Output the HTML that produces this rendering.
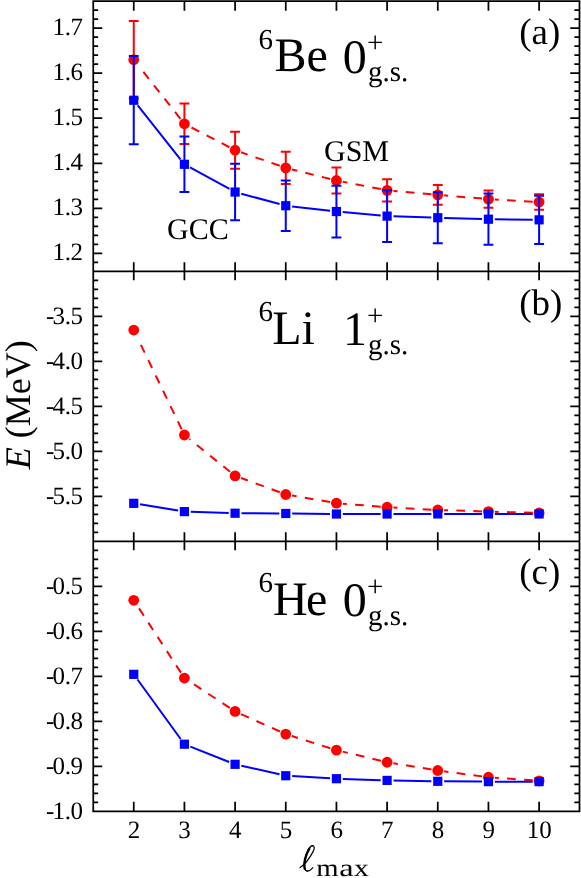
<!DOCTYPE html>
<html><head><meta charset="utf-8"><title>chart</title>
<style>html,body{margin:0;padding:0;background:#fff;width:581px;height:878px;overflow:hidden;font-family:"Liberation Serif",serif}</style>
</head><body>
<svg width="581" height="878" viewBox="0 0 581 878" style="display:block;position:absolute;left:0;top:0;will-change:transform">
<rect x="0" y="0" width="581" height="878" fill="#fff"/>
<g>
<path d="M180.45 118.76L175.05 111.94M169.9 105.43L164.51 98.6M159.36 92.09L153.96 85.27M148.81 78.76L143.41 71.94M229.42 147.25L221.7 143.22M214.34 139.38L206.63 135.36M199.27 131.52L191.55 127.5M279.72 165.79L271.5 162.92M263.67 160.18L255.45 157.32M247.62 154.58L241.13 152.31M330.22 178.96L321.78 176.86M313.72 174.85L305.28 172.75M297.22 170.75L291.97 169.44M380.82 189.1L372.28 187.44M364.13 185.87L355.59 184.21M347.44 182.63L342.71 181.72M431.4 194.25L422.73 193.48M414.46 192.75L405.8 191.98M397.53 191.24L393.47 190.88M482.06 198.59L473.39 197.86M465.12 197.15L456.46 196.41M448.19 195.71L444.15 195.36M532.72 201.66L524.03 201.16M515.75 200.69L507.06 200.2M498.78 199.73L494.83 199.5" stroke="#ff0000" stroke-width="2" fill="none"/>
<path d="M133.75 21.01V98.44M128.8 21.01H138.7M128.8 98.44H138.7" stroke="#ff0000" stroke-width="2" fill="none"/>
<path d="M184.42 103.52V144.04M179.47 103.52H189.37M179.47 144.04H189.37" stroke="#ff0000" stroke-width="2" fill="none"/>
<path d="M235.09 131.75V168.66M230.14 131.75H240.04M230.14 168.66H240.04" stroke="#ff0000" stroke-width="2" fill="none"/>
<path d="M285.76 151.69V184.1M280.81 151.69H290.71M280.81 184.1H290.71" stroke="#ff0000" stroke-width="2" fill="none"/>
<path d="M336.43 167.45V193.56M331.48 167.45H341.38M331.48 193.56H341.38" stroke="#ff0000" stroke-width="2" fill="none"/>
<path d="M387.1 179.2V201.43M382.15 179.2H392.05M382.15 201.43H392.05" stroke="#ff0000" stroke-width="2" fill="none"/>
<path d="M437.77 185V204.63M432.82 185H442.72M432.82 204.63H442.72" stroke="#ff0000" stroke-width="2" fill="none"/>
<path d="M488.44 190.59V207.69M483.49 190.59H493.39M483.49 207.69H493.39" stroke="#ff0000" stroke-width="2" fill="none"/>
<path d="M539.11 194.37V209.67M534.16 194.37H544.06M534.16 209.67H544.06" stroke="#ff0000" stroke-width="2" fill="none"/>
<circle cx="133.75" cy="59.72" r="5.4" fill="#ff0000"/>
<circle cx="184.42" cy="123.78" r="5.4" fill="#ff0000"/>
<circle cx="235.09" cy="150.21" r="5.4" fill="#ff0000"/>
<circle cx="285.76" cy="167.9" r="5.4" fill="#ff0000"/>
<circle cx="336.43" cy="180.5" r="5.4" fill="#ff0000"/>
<circle cx="387.1" cy="190.32" r="5.4" fill="#ff0000"/>
<circle cx="437.77" cy="194.82" r="5.4" fill="#ff0000"/>
<circle cx="488.44" cy="199.14" r="5.4" fill="#ff0000"/>
<circle cx="539.11" cy="202.02" r="5.4" fill="#ff0000"/>
<path d="M137.72 105.26L180.45 159.28M190.03 167.37L229.48 188.95M241.27 193.69L279.58 204.04M292.12 206.44L330.07 210.79M342.8 212.1L380.73 215.53M393.5 216.31L431.37 217.53M444.17 217.92L482.04 219.03M494.84 219.3L532.71 219.77" stroke="#0000ff" stroke-width="2" fill="none"/>
<path d="M133.75 56.12V144.35M128.8 56.12H138.7M128.8 144.35H138.7" stroke="#0000ff" stroke-width="2" fill="none"/>
<path d="M184.42 136.61V191.98M179.47 136.61H189.37M179.47 191.98H189.37" stroke="#0000ff" stroke-width="2" fill="none"/>
<path d="M235.09 163.8V220.25M230.14 163.8H240.04M230.14 220.25H240.04" stroke="#0000ff" stroke-width="2" fill="none"/>
<path d="M285.76 180.5V230.92M280.81 180.5H290.71M280.81 230.92H290.71" stroke="#0000ff" stroke-width="2" fill="none"/>
<path d="M336.43 185.63V237.4M331.48 185.63H341.38M331.48 237.4H341.38" stroke="#0000ff" stroke-width="2" fill="none"/>
<path d="M387.1 190.32V241.9M382.15 190.32H392.05M382.15 241.9H392.05" stroke="#0000ff" stroke-width="2" fill="none"/>
<path d="M437.77 192.21V243.25M432.82 192.21H442.72M432.82 243.25H442.72" stroke="#0000ff" stroke-width="2" fill="none"/>
<path d="M488.44 193.6V244.83M483.49 193.6H493.39M483.49 244.83H493.39" stroke="#0000ff" stroke-width="2" fill="none"/>
<path d="M539.11 195.72V243.97M534.16 195.72H544.06M534.16 243.97H544.06" stroke="#0000ff" stroke-width="2" fill="none"/>
<rect x="129.15" y="95.64" width="9.2" height="9.2" fill="#0000ff"/>
<rect x="179.82" y="159.7" width="9.2" height="9.2" fill="#0000ff"/>
<rect x="230.49" y="187.43" width="9.2" height="9.2" fill="#0000ff"/>
<rect x="281.16" y="201.11" width="9.2" height="9.2" fill="#0000ff"/>
<rect x="331.83" y="206.92" width="9.2" height="9.2" fill="#0000ff"/>
<rect x="382.5" y="211.51" width="9.2" height="9.2" fill="#0000ff"/>
<rect x="433.17" y="213.13" width="9.2" height="9.2" fill="#0000ff"/>
<rect x="483.84" y="214.62" width="9.2" height="9.2" fill="#0000ff"/>
<rect x="534.51" y="215.25" width="9.2" height="9.2" fill="#0000ff"/>
<path d="M181.64 429.22L177.85 421.38M174.25 413.91L170.46 406.07M166.86 398.6L163.07 390.76M159.46 383.29L155.68 375.45M152.07 367.98L148.29 360.14M144.68 352.67L140.9 344.83M230.11 471.79L223.33 466.33M216.87 461.13L210.09 455.67M203.63 450.46L196.86 445M190.39 439.79L189.4 438.99M279.76 492.3L271.59 489.28M263.81 486.41L255.65 483.4M247.86 480.52L241.09 478.02M330.12 502.07L321.54 500.61M313.36 499.22L304.79 497.76M296.6 496.36L292.07 495.59M380.72 506.69L372.05 505.99M363.77 505.33L355.1 504.64M346.83 503.98L342.81 503.66M431.38 509.63L422.69 509.15M414.41 508.7L405.72 508.22M397.43 507.76L393.49 507.55M482.04 511.4L473.35 511.12M465.05 510.85L456.36 510.58M448.06 510.31L444.17 510.19M532.71 512.78L524.02 512.55M515.72 512.33L507.02 512.1M498.72 511.88L494.84 511.77" stroke="#ff0000" stroke-width="2" fill="none"/>
<circle cx="133.75" cy="330.03" r="5.4" fill="#ff0000"/>
<circle cx="184.42" cy="434.98" r="5.4" fill="#ff0000"/>
<circle cx="235.09" cy="475.81" r="5.4" fill="#ff0000"/>
<circle cx="285.76" cy="494.51" r="5.4" fill="#ff0000"/>
<circle cx="336.43" cy="503.15" r="5.4" fill="#ff0000"/>
<circle cx="387.1" cy="507.2" r="5.4" fill="#ff0000"/>
<circle cx="437.77" cy="509.98" r="5.4" fill="#ff0000"/>
<circle cx="488.44" cy="511.6" r="5.4" fill="#ff0000"/>
<circle cx="539.11" cy="512.95" r="5.4" fill="#ff0000"/>
<path d="M140.07 504.36L178.1 510.57M190.82 511.81L228.69 513.02M241.49 513.25L279.36 513.46M292.16 513.56L330.03 513.96M342.83 514.03L380.7 514.03M393.5 514.02L431.37 513.95M444.17 513.94L482.04 513.94M494.84 513.94L532.71 513.94" stroke="#0000ff" stroke-width="2" fill="none"/>
<rect x="129.15" y="498.73" width="9.2" height="9.2" fill="#0000ff"/>
<rect x="179.82" y="507" width="9.2" height="9.2" fill="#0000ff"/>
<rect x="230.49" y="508.62" width="9.2" height="9.2" fill="#0000ff"/>
<rect x="281.16" y="508.89" width="9.2" height="9.2" fill="#0000ff"/>
<rect x="331.83" y="509.43" width="9.2" height="9.2" fill="#0000ff"/>
<rect x="382.5" y="509.43" width="9.2" height="9.2" fill="#0000ff"/>
<rect x="433.17" y="509.34" width="9.2" height="9.2" fill="#0000ff"/>
<rect x="483.84" y="509.34" width="9.2" height="9.2" fill="#0000ff"/>
<rect x="534.51" y="509.34" width="9.2" height="9.2" fill="#0000ff"/>
<path d="M180.93 672.67L176.17 665.38M171.64 658.43L166.89 651.14M162.36 644.18L157.61 636.9M153.07 629.94L148.32 622.66M143.79 615.7L139.04 608.41M229.75 707.89L222.48 703.1M215.55 698.53L208.28 693.75M201.35 689.18L194.09 684.4M279.92 731.51L271.98 727.95M264.41 724.55L256.47 720.99M248.9 717.6L240.96 714.04M330.33 748.21L322.03 745.59M314.12 743.09L305.82 740.46M297.91 737.96L291.86 736.05M380.88 760.75L372.41 758.73M364.34 756.8L355.88 754.78M347.8 752.85L342.65 751.62M431.45 769.48L422.87 768.08M414.68 766.74L406.09 765.34M397.9 764L393.42 763.27M482.1 776.38L473.47 775.24M465.24 774.15L456.62 773.01M448.39 771.92L444.11 771.35M532.73 780.36L524.05 779.75M515.77 779.16L507.09 778.54M498.81 777.95L494.82 777.67" stroke="#ff0000" stroke-width="2" fill="none"/>
<circle cx="133.75" cy="600.3" r="5.4" fill="#ff0000"/>
<circle cx="184.42" cy="678.03" r="5.4" fill="#ff0000"/>
<circle cx="235.09" cy="711.41" r="5.4" fill="#ff0000"/>
<circle cx="285.76" cy="734.12" r="5.4" fill="#ff0000"/>
<circle cx="336.43" cy="750.14" r="5.4" fill="#ff0000"/>
<circle cx="387.1" cy="762.24" r="5.4" fill="#ff0000"/>
<circle cx="437.77" cy="770.51" r="5.4" fill="#ff0000"/>
<circle cx="488.44" cy="777.22" r="5.4" fill="#ff0000"/>
<circle cx="539.11" cy="780.82" r="5.4" fill="#ff0000"/>
<path d="M137.51 679.52L180.66 739.02M190.37 746.56L229.14 761.95M241.33 765.72L279.52 774.33M292.15 776.11L330.04 778.33M342.83 778.92L380.7 780.2M393.5 780.52L431.37 781.2M444.17 781.35L482.04 781.59M494.84 781.63L532.71 781.63" stroke="#0000ff" stroke-width="2" fill="none"/>
<rect x="129.15" y="669.74" width="9.2" height="9.2" fill="#0000ff"/>
<rect x="179.82" y="739.6" width="9.2" height="9.2" fill="#0000ff"/>
<rect x="230.49" y="759.71" width="9.2" height="9.2" fill="#0000ff"/>
<rect x="281.16" y="771.13" width="9.2" height="9.2" fill="#0000ff"/>
<rect x="331.83" y="774.1" width="9.2" height="9.2" fill="#0000ff"/>
<rect x="382.5" y="775.81" width="9.2" height="9.2" fill="#0000ff"/>
<rect x="433.17" y="776.71" width="9.2" height="9.2" fill="#0000ff"/>
<rect x="483.84" y="777.03" width="9.2" height="9.2" fill="#0000ff"/>
<rect x="534.51" y="777.03" width="9.2" height="9.2" fill="#0000ff"/>
</g>
<path d="M133.75 1.2V10.7M133.75 262.3V280.3M133.75 532.3V550.3M133.75 801.85V811.35M184.42 1.2V10.7M184.42 262.3V280.3M184.42 532.3V550.3M184.42 801.85V811.35M235.09 1.2V10.7M235.09 262.3V280.3M235.09 532.3V550.3M235.09 801.85V811.35M285.76 1.2V10.7M285.76 262.3V280.3M285.76 532.3V550.3M285.76 801.85V811.35M336.43 1.2V10.7M336.43 262.3V280.3M336.43 532.3V550.3M336.43 801.85V811.35M387.1 1.2V10.7M387.1 262.3V280.3M387.1 532.3V550.3M387.1 801.85V811.35M437.77 1.2V10.7M437.77 262.3V280.3M437.77 532.3V550.3M437.77 801.85V811.35M488.44 1.2V10.7M488.44 262.3V280.3M488.44 532.3V550.3M488.44 801.85V811.35M539.11 1.2V10.7M539.11 262.3V280.3M539.11 532.3V550.3M539.11 801.85V811.35M93.25 262.3H98.15M574.35 262.3H579.5M93.25 253.29H102.25M570.25 253.29H579.5M93.25 244.29H98.15M574.35 244.29H579.5M93.25 235.29H98.15M574.35 235.29H579.5M93.25 226.28H98.15M574.35 226.28H579.5M93.25 217.28H98.15M574.35 217.28H579.5M93.25 208.28H102.25M570.25 208.28H579.5M93.25 199.27H98.15M574.35 199.27H579.5M93.25 190.27H98.15M574.35 190.27H579.5M93.25 181.27H98.15M574.35 181.27H579.5M93.25 172.26H98.15M574.35 172.26H579.5M93.25 163.26H102.25M570.25 163.26H579.5M93.25 154.26H98.15M574.35 154.26H579.5M93.25 145.25H98.15M574.35 145.25H579.5M93.25 136.25H98.15M574.35 136.25H579.5M93.25 127.25H98.15M574.35 127.25H579.5M93.25 118.24H102.25M570.25 118.24H579.5M93.25 109.24H98.15M574.35 109.24H579.5M93.25 100.24H98.15M574.35 100.24H579.5M93.25 91.23H98.15M574.35 91.23H579.5M93.25 82.23H98.15M574.35 82.23H579.5M93.25 73.23H102.25M570.25 73.23H579.5M93.25 64.22H98.15M574.35 64.22H579.5M93.25 55.22H98.15M574.35 55.22H579.5M93.25 46.22H98.15M574.35 46.22H579.5M93.25 37.21H98.15M574.35 37.21H579.5M93.25 28.21H102.25M570.25 28.21H579.5M93.25 19.21H98.15M574.35 19.21H579.5M93.25 10.2H98.15M574.35 10.2H579.5M93.25 532.3H98.15M574.35 532.3H579.5M93.25 523.3H98.15M574.35 523.3H579.5M93.25 514.3H98.15M574.35 514.3H579.5M93.25 505.3H98.15M574.35 505.3H579.5M93.25 496.3H102.25M570.25 496.3H579.5M93.25 487.3H98.15M574.35 487.3H579.5M93.25 478.3H98.15M574.35 478.3H579.5M93.25 469.3H98.15M574.35 469.3H579.5M93.25 460.3H98.15M574.35 460.3H579.5M93.25 451.3H102.25M570.25 451.3H579.5M93.25 442.3H98.15M574.35 442.3H579.5M93.25 433.3H98.15M574.35 433.3H579.5M93.25 424.3H98.15M574.35 424.3H579.5M93.25 415.3H98.15M574.35 415.3H579.5M93.25 406.3H102.25M570.25 406.3H579.5M93.25 397.3H98.15M574.35 397.3H579.5M93.25 388.3H98.15M574.35 388.3H579.5M93.25 379.3H98.15M574.35 379.3H579.5M93.25 370.3H98.15M574.35 370.3H579.5M93.25 361.3H102.25M570.25 361.3H579.5M93.25 352.3H98.15M574.35 352.3H579.5M93.25 343.3H98.15M574.35 343.3H579.5M93.25 334.3H98.15M574.35 334.3H579.5M93.25 325.3H98.15M574.35 325.3H579.5M93.25 316.3H102.25M570.25 316.3H579.5M93.25 307.3H98.15M574.35 307.3H579.5M93.25 298.3H98.15M574.35 298.3H579.5M93.25 289.3H98.15M574.35 289.3H579.5M93.25 280.3H98.15M574.35 280.3H579.5M93.25 802.35H98.15M574.35 802.35H579.5M93.25 793.35H98.15M574.35 793.35H579.5M93.25 784.35H98.15M574.35 784.35H579.5M93.25 775.34H98.15M574.35 775.34H579.5M93.25 766.34H102.25M570.25 766.34H579.5M93.25 757.34H98.15M574.35 757.34H579.5M93.25 748.34H98.15M574.35 748.34H579.5M93.25 739.34H98.15M574.35 739.34H579.5M93.25 730.34H98.15M574.35 730.34H579.5M93.25 721.33H102.25M570.25 721.33H579.5M93.25 712.33H98.15M574.35 712.33H579.5M93.25 703.33H98.15M574.35 703.33H579.5M93.25 694.33H98.15M574.35 694.33H579.5M93.25 685.33H98.15M574.35 685.33H579.5M93.25 676.32H102.25M570.25 676.32H579.5M93.25 667.32H98.15M574.35 667.32H579.5M93.25 658.32H98.15M574.35 658.32H579.5M93.25 649.32H98.15M574.35 649.32H579.5M93.25 640.32H98.15M574.35 640.32H579.5M93.25 631.32H102.25M570.25 631.32H579.5M93.25 622.32H98.15M574.35 622.32H579.5M93.25 613.31H98.15M574.35 613.31H579.5M93.25 604.31H98.15M574.35 604.31H579.5M93.25 595.31H98.15M574.35 595.31H579.5M93.25 586.31H102.25M570.25 586.31H579.5M93.25 577.31H98.15M574.35 577.31H579.5M93.25 568.3H98.15M574.35 568.3H579.5M93.25 559.3H98.15M574.35 559.3H579.5M93.25 550.3H98.15M574.35 550.3H579.5" stroke="#000" stroke-width="1.75" fill="none"/>
<path d="M93.25 1.2H579.5V811.35H93.25ZM93.25 271.3H579.5M93.25 541.3H579.5" stroke="#000" stroke-width="1.75" fill="none" stroke-linejoin="miter"/>
<g font-family="Liberation Serif, serif" fill="#000" text-rendering="geometricPrecision">
<text x="82.6" y="35.21" font-size="25" letter-spacing="-0.4" text-anchor="end">1.7</text>
<text x="82.6" y="80.23" font-size="25" letter-spacing="-0.4" text-anchor="end">1.6</text>
<text x="82.6" y="125.24" font-size="25" letter-spacing="-0.4" text-anchor="end">1.5</text>
<text x="82.6" y="170.26" font-size="25" letter-spacing="-0.4" text-anchor="end">1.4</text>
<text x="82.6" y="215.28" font-size="25" letter-spacing="-0.4" text-anchor="end">1.3</text>
<text x="82.6" y="260.29" font-size="25" letter-spacing="-0.4" text-anchor="end">1.2</text>
<text x="82.6" y="323.8" font-size="25" letter-spacing="-0.4" text-anchor="end">-<tspan dx="-1.3">3.5</tspan></text>
<text x="82.6" y="368.8" font-size="25" letter-spacing="-0.4" text-anchor="end">-<tspan dx="-1.3">4.0</tspan></text>
<text x="82.6" y="413.8" font-size="25" letter-spacing="-0.4" text-anchor="end">-<tspan dx="-1.3">4.5</tspan></text>
<text x="82.6" y="458.8" font-size="25" letter-spacing="-0.4" text-anchor="end">-<tspan dx="-1.3">5.0</tspan></text>
<text x="82.6" y="503.8" font-size="25" letter-spacing="-0.4" text-anchor="end">-<tspan dx="-1.3">5.5</tspan></text>
<text x="82.6" y="593.81" font-size="25" letter-spacing="-0.4" text-anchor="end">-<tspan dx="-1.3">0.5</tspan></text>
<text x="82.6" y="638.82" font-size="25" letter-spacing="-0.4" text-anchor="end">-<tspan dx="-1.3">0.6</tspan></text>
<text x="82.6" y="683.82" font-size="25" letter-spacing="-0.4" text-anchor="end">-<tspan dx="-1.3">0.7</tspan></text>
<text x="82.6" y="728.83" font-size="25" letter-spacing="-0.4" text-anchor="end">-<tspan dx="-1.3">0.8</tspan></text>
<text x="82.6" y="773.84" font-size="25" letter-spacing="-0.4" text-anchor="end">-<tspan dx="-1.3">0.9</tspan></text>
<text x="82.6" y="818.85" font-size="25" letter-spacing="-0.4" text-anchor="end">-<tspan dx="-1.3">1.0</tspan></text>
<text x="133.95" y="838.2" font-size="25" text-anchor="middle">2</text>
<text x="184.62" y="838.2" font-size="25" text-anchor="middle">3</text>
<text x="235.29" y="838.2" font-size="25" text-anchor="middle">4</text>
<text x="285.96" y="838.2" font-size="25" text-anchor="middle">5</text>
<text x="336.63" y="838.2" font-size="25" text-anchor="middle">6</text>
<text x="387.3" y="838.2" font-size="25" text-anchor="middle">7</text>
<text x="437.97" y="838.2" font-size="25" text-anchor="middle">8</text>
<text x="488.64" y="838.2" font-size="25" text-anchor="middle">9</text>
<text x="539.31" y="838.2" font-size="25" text-anchor="middle">10</text>
<text transform="translate(29.5 404.8) rotate(-90)" font-size="36" text-anchor="middle"><tspan font-style="italic">E</tspan> (MeV)</text>
<text x="258.5" y="48.5" font-size="29">6</text>
<text x="274.5" y="71.1" font-size="48">Be</text>
<text x="342.8" y="72.7" font-size="48">0</text>
<text x="367.0" y="52.1" font-size="29">+</text>
<text x="368.0" y="81.3" font-size="29">g.s.</text>
<text x="258.5" y="321.1" font-size="29">6</text>
<text x="272.3" y="343.7" font-size="48">Li</text>
<text x="343" y="345.3" font-size="48">1</text>
<text x="367.0" y="324.7" font-size="29">+</text>
<text x="368.0" y="353.9" font-size="29">g.s.</text>
<text x="258.5" y="592.1" font-size="29">6</text>
<text x="273" y="614.7" font-size="48">H<tspan dx="-1.6">e</tspan></text>
<text x="342.8" y="616.3" font-size="48">0</text>
<text x="367.0" y="595.7" font-size="29">+</text>
<text x="368.0" y="624.9" font-size="29">g.s.</text>
<text x="519.3" y="43.7" font-size="37">(a)</text>
<text x="519.3" y="314.9" font-size="37">(b)</text>
<text x="519.3" y="583.9" font-size="37">(c)</text>
<text x="167.0" y="238.8" font-size="30">GCC</text>
<text x="324.0" y="160.8" font-size="30">GSM</text>
<g fill="none" stroke="#000" stroke-linecap="round" stroke-linejoin="round">
<path d="M300.2 867.6C304.2 865 309.3 858.8 313.2 851.4C315 847.9 314.4 845.8 312.4 845.7" stroke-width="1.2"/>
<path d="M312.4 845.7C309.6 845.7 306.4 852.7 305 859.5C303.9 865 304.2 871 307.5 871.1" stroke-width="1.5"/>
<path d="M309.3 848.8C307.4 851.8 305.8 855.6 305 859.5C304.3 863 304.1 866.5 304.7 868.6" stroke-width="2.3"/>
<path d="M307.5 871.1C309.6 871.1 311.5 869.4 312.9 867.7" stroke-width="1.1"/>
</g>
<text transform="translate(316.2 875.7) scale(1.17 1)" font-size="24.5">m</text>
<text transform="translate(339.2 875.7) scale(1.32 1)" font-size="24.5">a</text>
<text transform="translate(354.1 875.7) scale(1.21 1)" font-size="24.5">x</text>
</g>
</svg>
</body></html>
